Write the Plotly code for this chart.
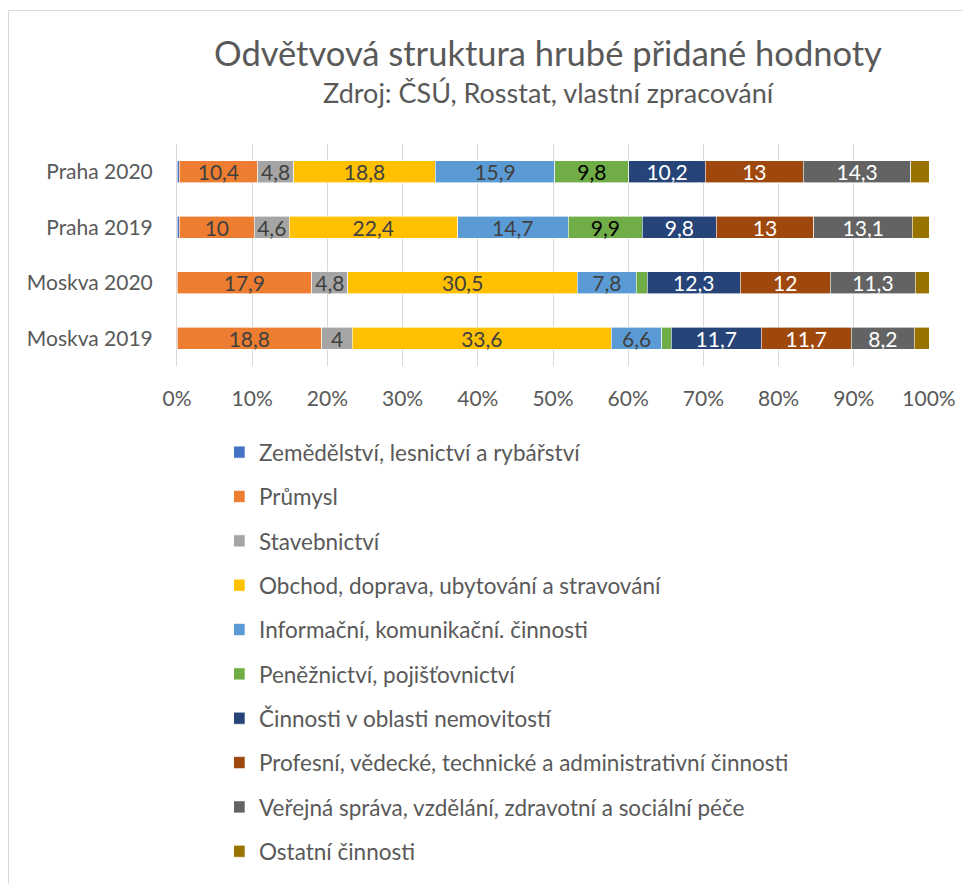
import plotly.graph_objects as go

categories = ["Praha 2020", "Praha 2019", "Moskva 2020", "Moskva 2019"]

sectors = [
    "Zemědělství, lesnictví a rybářství",
    "Průmysl",
    "Stavebnictví",
    "Obchod, doprava, ubytování a stravování",
    "Informační, komunikační. činnosti",
    "Peněžnictví, pojišťovnictví",
    "Činnosti v oblasti nemovitostí",
    "Profesní, vědecké, technické a administrativní činnosti",
    "Veřejná správa, vzdělání, zdravotní a sociální péče",
    "Ostatní činnosti",
]

# values per sector for [Praha 2020, Praha 2019, Moskva 2020, Moskva 2019]
zemedelstvi = [0.3, 0.3, 0.0, 0.0]
prumysl = [10.4, 10.0, 17.9, 18.8]
stavebnictvi = [4.8, 4.6, 4.8, 4.0]
obchod = [18.8, 22.4, 30.5, 33.6]
informacni = [15.9, 14.7, 7.8, 6.6]
peneznictvi = [9.8, 9.9, 1.5, 1.2]
nemovitosti = [10.2, 9.8, 12.3, 11.7]
profesni = [13.0, 13.0, 12.0, 11.7]
verejna = [14.3, 13.1, 11.3, 8.2]
ostatni = [2.4, 2.2, 1.8, 1.9]

series = [zemedelstvi, prumysl, stavebnictvi, obchod, informacni,
          peneznictvi, nemovitosti, profesni, verejna, ostatni]

colors = ["#4472C4", "#ED7D31", "#A5A5A5", "#FFC000", "#5B9BD5",
          "#70AD47", "#264478", "#9E480E", "#636363", "#997300"]
label_colors = ["#404040", "#404040", "#404040", "#404040", "#404040",
                "#000000", "#FFFFFF", "#FFFFFF", "#FFFFFF", "#404040"]
show_label = [False, True, True, True, True, True, True, True, True, False]

FONT = "Lato"
GREY = "#595959"

fig = go.Figure()
for name, vals, col, lcol, show in zip(sectors, series, colors, label_colors, show_label):
    texts = []
    for v in vals:
        if show and v >= 3:
            texts.append(("%g" % v).replace(".", ","))
        else:
            texts.append("")
    fig.add_trace(go.Bar(
        y=categories, x=vals, name=name, orientation="h",
        marker=dict(color=col, line=dict(color="white", width=0.6)),
        text=texts, textposition="inside", insidetextanchor="middle",
        textangle=0, constraintext="none",
        textfont=dict(family=FONT, size=21, color=lcol),
        hoverinfo="skip", legendgroup=name, width=0.4,
    ))

# page body adds an 8px offset; figure coordinates = screen - 8
OFF = 8
W, H = 971 - OFF, 884 - OFF
L, R, T, B = 177 - OFF, 929 - OFF, 144 - OFF, 366 - OFF

def px_x(p):
    return (p - OFF - L) / (R - L)

def px_y(p):
    return (B - (p - OFF)) / (B - T)

fig.update_layout(
    width=W, height=H,
    margin=dict(l=L, r=W - R, t=T, b=H - B, autoexpand=False),
    barmode="stack", barnorm="percent",
    paper_bgcolor="white", plot_bgcolor="white",
    separators=", ",
    font=dict(family=FONT, color=GREY, size=17),
    showlegend=True,
    legend=dict(
        orientation="v", traceorder="grouped", tracegroupgap=12.1,
        xref="container", yref="container",
        x=(234 - OFF) / W, y=1 - (431 - OFF) / H, xanchor="left", yanchor="top",
        font=dict(family=FONT, size=22.5, color=GREY),
        bgcolor="rgba(0,0,0,0)", maxheight=520, indentation=-15,
    ),
    xaxis=dict(
        range=[0, 100], dtick=10, ticksuffix="%", showgrid=True,
        gridcolor="#D9D9D9", gridwidth=1, zeroline=False, showline=False,
        ticks="outside", ticklen=14, tickcolor="rgba(0,0,0,0)",
        tickfont=dict(family=FONT, size=21, color=GREY), fixedrange=True,
    ),
    yaxis=dict(
        autorange="reversed", showline=True, linecolor="#D9D9D9", linewidth=1,
        ticks="outside", ticklen=19, tickcolor="rgba(0,0,0,0)",
        tickfont=dict(family=FONT, size=21, color=GREY), fixedrange=True,
    ),
    annotations=[
        dict(text="Odvětvová struktura hrubé přidané hodnoty", xref="paper", yref="paper",
             x=px_x(548), y=px_y(52), xanchor="center", yanchor="middle", showarrow=False,
             font=dict(family=FONT, size=34.5, color=GREY)),
        dict(text="Zdroj: ČSÚ, Rosstat, vlastní zpracování", xref="paper", yref="paper",
             x=px_x(549), y=px_y(93), xanchor="center", yanchor="middle", showarrow=False,
             font=dict(family=FONT, size=27, color=GREY)),
    ],
    shapes=[
        dict(type="line", xref="paper", yref="paper", x0=px_x(8.5), x1=px_x(980),
             y0=px_y(10.5), y1=px_y(10.5), line=dict(color="#D9D9D9", width=1)),
        dict(type="line", xref="paper", yref="paper", x0=px_x(8.5), x1=px_x(8.5),
             y0=px_y(10.5), y1=px_y(900), line=dict(color="#D9D9D9", width=1)),
    ],
)

fig.write_html("out.html")
